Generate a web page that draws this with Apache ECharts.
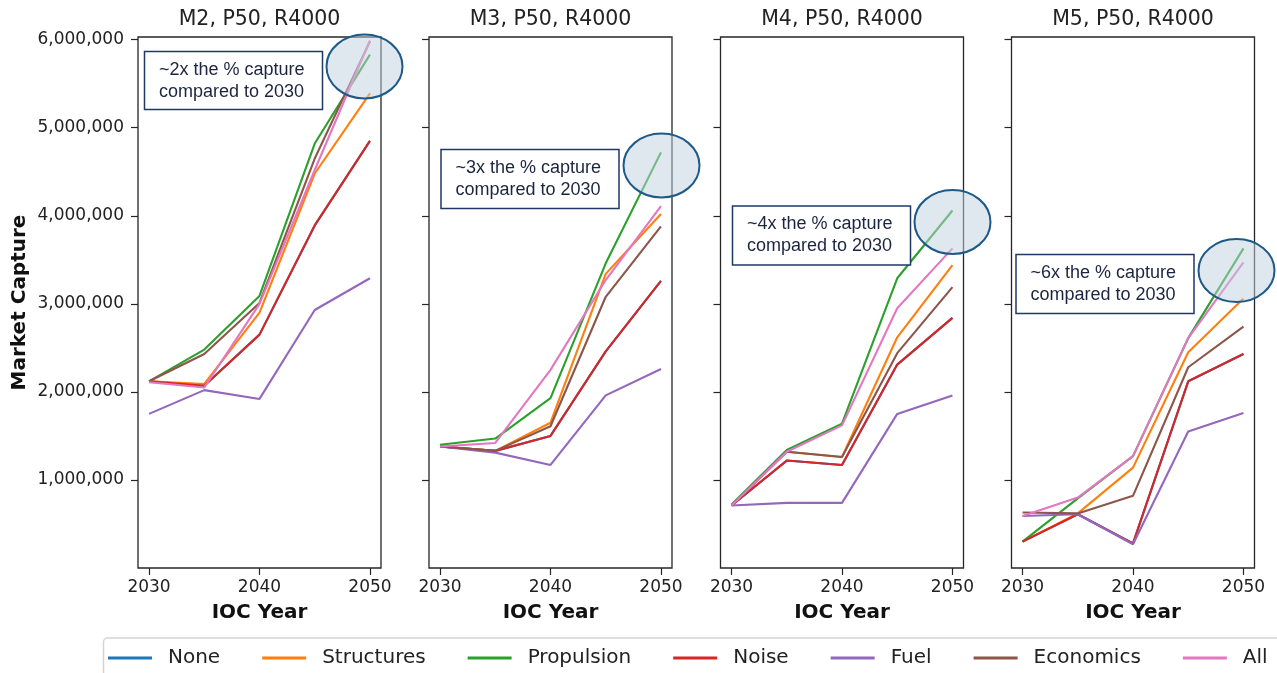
<!DOCTYPE html>
<html>
<head>
<meta charset="utf-8">
<script src="https://cdn.jsdelivr.net/npm/echarts@6/dist/echarts.min.js"></script>
<style>
  html, body { margin: 0; padding: 0; background: #fff; }
  #chart { width: 1277px; height: 673px; }
</style>
</head>
<body>
<div id="chart"></div>
<script>
// ---- data ----
const years = [2030, 2035, 2040, 2045, 2050]
const panelTitles = ['M2, P50, R4000', 'M3, P50, R4000', 'M4, P50, R4000', 'M5, P50, R4000']
const seriesNames = ['None', 'Structures', 'Propulsion', 'Noise', 'Fuel', 'Economics', 'All']
const xTicks = [2030, 2040, 2050]
const yTicks = [1000000, 2000000, 3000000, 4000000, 5000000, 6000000]

// one row per panel: M2, M3, M4, M5
const noneVals = [
  [2120000, 2070000, 2650000, 3890000, 4850000],
  [1380000, 1330000, 1500000, 2460000, 3260000],
  [710000, 1220000, 1170000, 2310000, 2840000],
  [300000, 610000, 280000, 2120000, 2430000],
]
const structuresVals = [
  [2120000, 2090000, 2900000, 4480000, 5390000],
  [1380000, 1330000, 1650000, 3340000, 4020000],
  [710000, 1320000, 1260000, 2620000, 3440000],
  [300000, 620000, 1140000, 2450000, 3060000],
]
const propulsionVals = [
  [2120000, 2480000, 3090000, 4820000, 5830000],
  [1400000, 1470000, 1930000, 3460000, 4720000],
  [720000, 1340000, 1640000, 3290000, 4060000],
  [300000, 790000, 1270000, 2610000, 3630000],
]
const noiseVals = [
  [2120000, 2070000, 2650000, 3890000, 4850000],
  [1380000, 1330000, 1500000, 2460000, 3260000],
  [710000, 1220000, 1170000, 2310000, 2840000],
  [300000, 610000, 280000, 2120000, 2430000],
]
const fuelVals = [
  [1750000, 2020000, 1920000, 2930000, 3290000],
  [1380000, 1310000, 1170000, 1960000, 2260000],
  [710000, 740000, 740000, 1750000, 1960000],
  [590000, 610000, 270000, 1550000, 1760000],
]
const economicsVals = [
  [2120000, 2430000, 3010000, 4650000, 5980000],
  [1380000, 1330000, 1610000, 3080000, 3880000],
  [710000, 1320000, 1260000, 2440000, 3190000],
  [630000, 620000, 820000, 2280000, 2740000],
]
const allVals = [
  [2110000, 2050000, 3000000, 4520000, 5990000],
  [1380000, 1420000, 2250000, 3270000, 4110000],
  [710000, 1320000, 1620000, 2950000, 3630000],
  [590000, 800000, 1270000, 2610000, 3470000],
]
const annotationTexts = [
  '~2x the % capture\ncompared to 2030',
  '~3x the % capture\ncompared to 2030',
  '~4x the % capture\ncompared to 2030',
  '~6x the % capture\ncompared to 2030',
]

// ---- layout / style ----
const colors = ['#1f77b4', '#ff7f0e', '#2ca02c', '#d62728', '#9467bd', '#8c564b', '#e377c2']
const valuesBySeries = [noneVals, structuresVals, propulsionVals, noiseVals, fuelVals, economicsVals, allVals]
const panelLeft = [138, 429, 720.5, 1011.5]
const panelWidth = 243
const panelTop = 37
const panelHeight = 531
const font = '"DejaVu Sans", sans-serif'
const ink = '#222'
const spine = '#262626'

// annotation boxes [x, y, w, h] and callout ellipses [cx, cy, rx, ry]
const boxes = [
  [144.5, 51.5, 178, 58],
  [441, 149.5, 178, 59],
  [732.5, 206, 178, 59],
  [1016, 254.5, 178, 59],
]
const ellipses = [
  [364.5, 66.5, 38, 32],
  [661.5, 165.5, 38, 32],
  [952.5, 222, 38, 32],
  [1236.5, 270.5, 38, 31.5],
]

const fmt = v => String(v).replace(/\B(?=(\d{3})+(?!\d))/g, ',')

const chart = echarts.init(document.getElementById('chart'))

const grid = panelLeft.map(l => ({
  left: l, top: panelTop, width: panelWidth, height: panelHeight,
  show: true, borderColor: spine, borderWidth: 1.3, backgroundColor: 'transparent',
}))

const title = panelTitles.map((t, i) => ({
  text: t,
  left: panelLeft[i] + panelWidth / 2,
  top: 9,
  padding: 0,
  textAlign: 'center',
  textStyle: { fontFamily: font, fontSize: 20.5, fontWeight: 'normal', color: ink },
}))

const xAxis = panelLeft.map((_, i) => ({
  gridIndex: i,
  type: 'value',
  min: 2029,
  max: 2051,
  axisLine: { show: false },
  splitLine: { show: false },
  axisTick: { show: true, length: 7, customValues: xTicks, lineStyle: { color: spine, width: 1.2 } },
  axisLabel: {
    customValues: xTicks, formatter: v => String(v),
    margin: 11, fontFamily: font, fontSize: 17, color: ink,
  },
  name: 'IOC Year',
  nameLocation: 'middle',
  nameGap: 35,
  nameTextStyle: { fontFamily: font, fontSize: 20, fontWeight: 'bold', color: '#111' },
}))

const yAxis = panelLeft.map((_, i) => ({
  gridIndex: i,
  type: 'value',
  min: 0,
  max: 6030000,
  axisLine: { show: false },
  splitLine: { show: false },
  axisTick: { show: true, length: 7, customValues: yTicks, lineStyle: { color: spine, width: 1.2 } },
  axisLabel: {
    show: i === 0, customValues: yTicks, formatter: fmt,
    margin: 14, fontFamily: font, fontSize: 17, color: ink,
  },
  name: i === 0 ? 'Market Capture' : '',
  nameLocation: 'middle',
  nameGap: 108,
  nameTextStyle: { fontFamily: font, fontSize: 20, fontWeight: 'bold', color: '#111' },
}))

const series = []
panelTitles.forEach((_, p) => {
  seriesNames.forEach((name, k) => {
    series.push({
      type: 'line',
      name,
      xAxisIndex: p,
      yAxisIndex: p,
      data: years.map((y, j) => [y, valuesBySeries[k][p][j]]),
      symbol: 'none',
      color: colors[k],
      lineStyle: { width: 2.1, color: colors[k] },
      silent: true,
    })
  })
})

const graphic = [
  {
    type: 'rect', z: 1,
    shape: { x: 103.5, y: 638, width: 1250, height: 60, r: 4 },
    style: { fill: '#fff', stroke: '#d4d4d4', lineWidth: 1.5 },
  },
]
boxes.forEach(([x, y, w, h], i) => {
  graphic.push({
    type: 'rect', z: 100,
    shape: { x, y, width: w, height: h },
    style: { fill: '#fff', stroke: '#1f3864', lineWidth: 1.5 },
  })
  graphic.push({
    type: 'text', z: 101,
    style: {
      text: annotationTexts[i],
      x: x + 14.5, y: y + 7.5,
      font: '18px "Liberation Sans", Arial, sans-serif',
      lineHeight: 22,
      fill: '#1c2540',
    },
  })
})
ellipses.forEach(([cx, cy, rx, ry]) => {
  graphic.push({
    type: 'ellipse', z: 100,
    shape: { cx, cy, rx, ry },
    style: { fill: 'rgba(191,207,223,0.5)', stroke: '#1d5a87', lineWidth: 2 },
  })
})

chart.setOption({
  animation: false,
  backgroundColor: '#fff',
  title,
  grid,
  xAxis,
  yAxis,
  legend: {
    data: seriesNames,
    left: 108,
    top: 647,
    padding: 0,
    icon: 'rect',
    itemWidth: 44,
    itemHeight: 3,
    itemGap: 42,
    selectedMode: false,
    textStyle: { fontFamily: font, fontSize: 20, color: ink, lineHeight: 22, padding: [0, 0, 0, 11] },
  },
  graphic,
  series,
})
</script>
</body>
</html>
